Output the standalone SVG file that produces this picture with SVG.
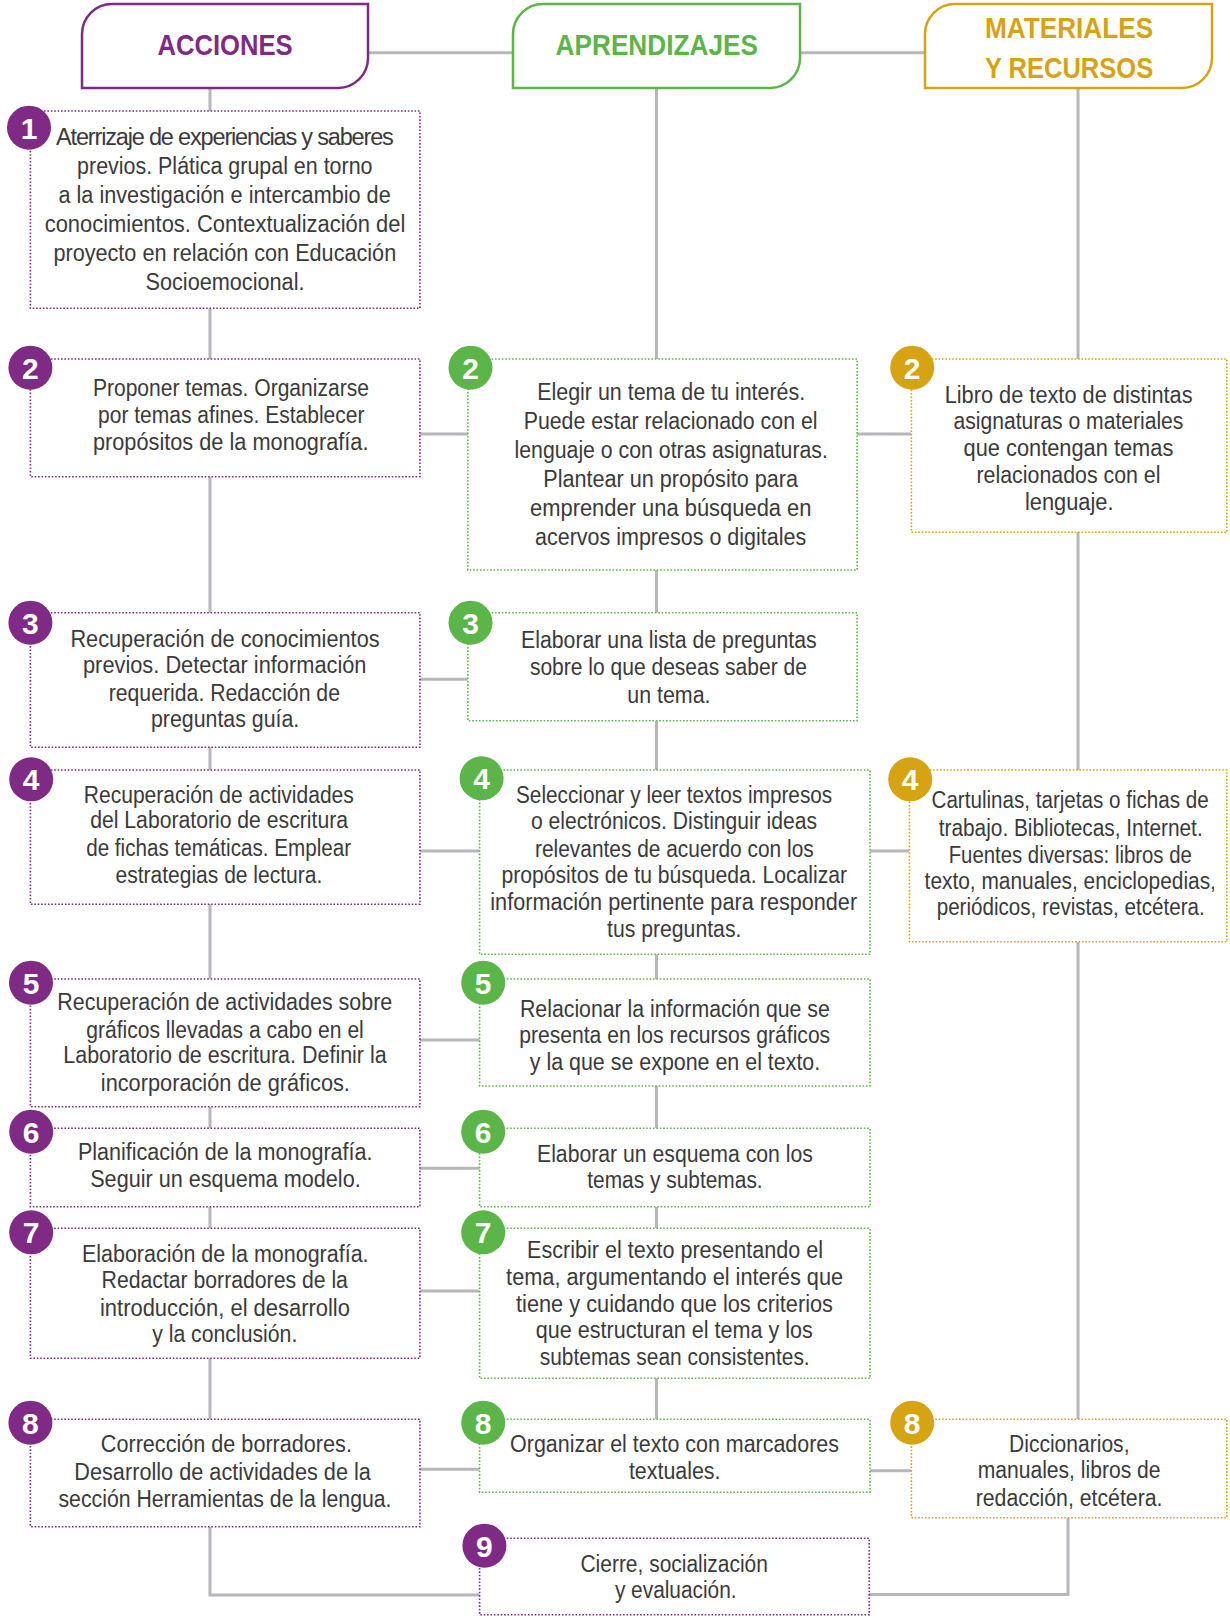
<svg xmlns="http://www.w3.org/2000/svg" width="1230" height="1616" viewBox="0 0 1230 1616">
<style>
.hd{fill:#fff;stroke-width:2.5}
.bx{fill:#fff;stroke-width:1.6;stroke-dasharray:1.6 1.8}
.p{stroke:#7f2a84}.g{stroke:#5bb548}.o{stroke:#d6a313}
.bp{fill:#7f2a84}.bg{fill:#5bb548}.bo{fill:#d6a313}
.t{font-family:"Liberation Sans Narrow","Liberation Sans",Arial,sans-serif;font-size:23.5px;fill:#3a3a3a}
.n{font-family:"Liberation Sans Narrow","Liberation Sans",Arial,sans-serif;font-size:30px;font-weight:bold;fill:#fff;text-anchor:middle}
.h{font-family:"Liberation Sans Narrow","Liberation Sans",Arial,sans-serif;font-size:30px;font-weight:bold}
.c{stroke:#b6b6bb;stroke-width:3;fill:none}
</style>
<g id="connectors" class="c">
<path d="M368,52.7H513M800,52.7H925"/>
<path d="M210,88V111M210,308V359M210,477V613M210,747V770M210,904V979M210,1107V1128M210,1207V1228M210,1358V1419M210,1527V1595H480"/>
<path d="M656.5,88V359M656.5,570V613M656.5,721V770M656.5,954V979M656.5,1086V1128M656.5,1207V1228M656.5,1378V1419"/>
<path d="M1078,88V359M1078,532V770M1078,942V1419M1068,1518V1594.5H869"/>
<path d="M420,434H468M857,434H911M420,679.3H468M420,851H480M870,851H909M420,1040H480M420,1168.3H480M420,1291H480M420,1469.3H480M870,1470.7H911"/>
</g>
<g id="h-acciones">
<path class="hd p" d="M82,88V34A30,30 0 0 1 112,4H368V58A30,30 0 0 1 338,88Z"/>
<text class="h" x="157.4" y="55" textLength="135.2" lengthAdjust="spacingAndGlyphs" fill="#7f2a84">ACCIONES</text>
</g>
<g id="h-aprendizajes">
<path class="hd g" d="M513,88V34A30,30 0 0 1 543,4H800V58A30,30 0 0 1 770,88Z"/>
<text class="h" x="555.6" y="55" textLength="202.3" lengthAdjust="spacingAndGlyphs" fill="#5bb548">APRENDIZAJES</text>
</g>
<g id="h-materiales">
<path class="hd o" d="M925,88V34A30,30 0 0 1 955,4H1212V58A30,30 0 0 1 1182,88Z"/>
<text class="h" x="984.9" y="37.5" textLength="168.3" lengthAdjust="spacingAndGlyphs" fill="#d6a313">MATERIALES</text>
<text class="h" x="984.9" y="77.5" textLength="168.3" lengthAdjust="spacingAndGlyphs" fill="#d6a313">Y RECURSOS</text>
</g>
<g id="a1">
<rect class="bx p" x="30.4" y="111" width="389.5" height="197.3"/>
<circle class="bp" cx="29" cy="127.7" r="22"/><text class="n" x="29" y="138.7">1</text>
<text class="t" lengthAdjust="spacingAndGlyphs"><tspan x="56.1" y="145" textLength="337.7">Aterrizaje de experiencias y saberes</tspan></text>
<text class="t" x="77.1" y="174" textLength="295.4" lengthAdjust="spacingAndGlyphs">previos. Plática grupal en torno</text>
<text class="t" x="58.5" y="202.7" textLength="332.2" lengthAdjust="spacingAndGlyphs">a la investigación e intercambio de</text>
<text class="t" x="44.7" y="231.7" textLength="360.6" lengthAdjust="spacingAndGlyphs">conocimientos. Contextualización del</text>
<text class="t" x="53.4" y="260.7" textLength="342.8" lengthAdjust="spacingAndGlyphs">proyecto en relación con Educación</text>
<text class="t" x="145.5" y="290" textLength="159" lengthAdjust="spacingAndGlyphs">Socioemocional.</text>
</g>
<g id="a2">
<rect class="bx p" x="30.4" y="359" width="389.5" height="117.7"/>
<circle class="bp" cx="30.4" cy="367.7" r="22"/><text class="n" x="30.4" y="378.7">2</text>
<text class="t" x="92.9" y="396" textLength="276" lengthAdjust="spacingAndGlyphs">Proponer temas. Organizarse</text>
<text class="t" x="98" y="423.3" textLength="266.5" lengthAdjust="spacingAndGlyphs">por temas afines. Establecer</text>
<text class="t" x="92.9" y="450" textLength="275.6" lengthAdjust="spacingAndGlyphs">propósitos de la monografía.</text>
</g>
<g id="a3">
<rect class="bx p" x="30.4" y="612.7" width="389.5" height="134.6"/>
<circle class="bp" cx="30.4" cy="622.7" r="22"/><text class="n" x="30.4" y="633.7">3</text>
<text class="t" x="70.4" y="646.7" textLength="309.2" lengthAdjust="spacingAndGlyphs">Recuperación de conocimientos</text>
<text class="t" x="83" y="673.3" textLength="283.5" lengthAdjust="spacingAndGlyphs">previos. Detectar información</text>
<text class="t" x="108.7" y="700.7" textLength="231.3" lengthAdjust="spacingAndGlyphs">requerida. Redacción de</text>
<text class="t" x="151" y="726.7" textLength="148.3" lengthAdjust="spacingAndGlyphs">preguntas guía.</text>
</g>
<g id="a4">
<rect class="bx p" x="30.4" y="770" width="389.5" height="134.3"/>
<circle class="bp" cx="31.2" cy="779.3" r="22"/><text class="n" x="31.2" y="790.3">4</text>
<text class="t" x="83.8" y="802.7" textLength="270" lengthAdjust="spacingAndGlyphs">Recuperación de actividades</text>
<text class="t" x="90.2" y="828.3" textLength="257.8" lengthAdjust="spacingAndGlyphs">del Laboratorio de escritura</text>
<text class="t" x="86.2" y="856" textLength="264.9" lengthAdjust="spacingAndGlyphs">de fichas temáticas. Emplear</text>
<text class="t" x="115.5" y="882.7" textLength="206.8" lengthAdjust="spacingAndGlyphs">estrategias de lectura.</text>
</g>
<g id="a5">
<rect class="bx p" x="30.4" y="979" width="389.5" height="127.7"/>
<circle class="bp" cx="31" cy="982.7" r="22"/><text class="n" x="31" y="993.7">5</text>
<text class="t" x="57.3" y="1010" textLength="334.9" lengthAdjust="spacingAndGlyphs">Recuperación de actividades sobre</text>
<text class="t" x="86.2" y="1037.7" textLength="277.6" lengthAdjust="spacingAndGlyphs">gráficos llevadas a cabo en el</text>
<text class="t" x="63.3" y="1063.3" textLength="323.4" lengthAdjust="spacingAndGlyphs">Laboratorio de escritura. Definir la</text>
<text class="t" x="100.8" y="1090.7" textLength="249.1" lengthAdjust="spacingAndGlyphs">incorporación de gráficos.</text>
</g>
<g id="a6">
<rect class="bx p" x="30.4" y="1128.3" width="389.5" height="78.4"/>
<circle class="bp" cx="31.2" cy="1131.7" r="22"/><text class="n" x="31.2" y="1142.7">6</text>
<text class="t" x="77.9" y="1160" textLength="294.6" lengthAdjust="spacingAndGlyphs">Planificación de la monografía.</text>
<text class="t" x="90.2" y="1186.7" textLength="270.5" lengthAdjust="spacingAndGlyphs">Seguir un esquema modelo.</text>
</g>
<g id="a7">
<rect class="bx p" x="30.4" y="1228.3" width="389.5" height="130"/>
<circle class="bp" cx="31.2" cy="1232.3" r="22"/><text class="n" x="31.2" y="1243.3">7</text>
<text class="t" x="81.9" y="1261.7" textLength="286.7" lengthAdjust="spacingAndGlyphs">Elaboración de la monografía.</text>
<text class="t" x="101.6" y="1288.3" textLength="246.3" lengthAdjust="spacingAndGlyphs">Redactar borradores de la</text>
<text class="t" x="100" y="1316" textLength="249.9" lengthAdjust="spacingAndGlyphs">introducción, el desarrollo</text>
<text class="t" x="152.2" y="1341.7" textLength="145.1" lengthAdjust="spacingAndGlyphs">y la conclusión.</text>
</g>
<g id="a8">
<rect class="bx p" x="30.4" y="1419.3" width="389.5" height="107.4"/>
<circle class="bp" cx="30.4" cy="1422.7" r="22"/><text class="n" x="30.4" y="1433.7">8</text>
<text class="t" x="100.8" y="1451.7" textLength="251.1" lengthAdjust="spacingAndGlyphs">Corrección de borradores.</text>
<text class="t" x="74.3" y="1480" textLength="296.6" lengthAdjust="spacingAndGlyphs">Desarrollo de actividades de la</text>
<text class="t" x="58.5" y="1506.7" textLength="333" lengthAdjust="spacingAndGlyphs">sección Herramientas de la lengua.</text>
</g>
<g id="l2">
<rect class="bx g" x="467.8" y="359" width="389.3" height="211"/>
<circle class="bg" cx="470.5" cy="367.7" r="22"/><text class="n" x="470.5" y="378.7">2</text>
<text class="t" x="537.2" y="400" textLength="268" lengthAdjust="spacingAndGlyphs">Elegir un tema de tu interés.</text>
<text class="t" x="523.7" y="429" textLength="293.8" lengthAdjust="spacingAndGlyphs">Puede estar relacionado con el</text>
<text class="t" x="514.5" y="457.5" textLength="313.4" lengthAdjust="spacingAndGlyphs">lenguaje o con otras asignaturas.</text>
<text class="t" x="543.3" y="486.5" textLength="254.7" lengthAdjust="spacingAndGlyphs">Plantear un propósito para</text>
<text class="t" x="530" y="515.5" textLength="281.5" lengthAdjust="spacingAndGlyphs">emprender una búsqueda en</text>
<text class="t" x="535" y="544.5" textLength="271.2" lengthAdjust="spacingAndGlyphs">acervos impresos o digitales</text>
</g>
<g id="l3">
<rect class="bx g" x="467.8" y="612.7" width="389.3" height="108"/>
<circle class="bg" cx="470.5" cy="622.7" r="22"/><text class="n" x="470.5" y="633.7">3</text>
<text class="t" x="521" y="648.3" textLength="295.7" lengthAdjust="spacingAndGlyphs">Elaborar una lista de preguntas</text>
<text class="t" x="529.9" y="675" textLength="277" lengthAdjust="spacingAndGlyphs">sobre lo que deseas saber de</text>
<text class="t" x="627.3" y="702.7" textLength="83.2" lengthAdjust="spacingAndGlyphs">un tema.</text>
</g>
<g id="l4">
<rect class="bx g" x="479.6" y="770" width="390.4" height="184.3"/>
<circle class="bg" cx="481.6" cy="778.3" r="22"/><text class="n" x="481.6" y="789.3">4</text>
<text class="t" x="516" y="803.3" textLength="316.2" lengthAdjust="spacingAndGlyphs">Seleccionar y leer textos impresos</text>
<text class="t" x="531" y="829.3" textLength="286" lengthAdjust="spacingAndGlyphs">o electrónicos. Distinguir ideas</text>
<text class="t" x="535" y="856.7" textLength="278.7" lengthAdjust="spacingAndGlyphs">relevantes de acuerdo con los</text>
<text class="t" x="501.4" y="883.3" textLength="345.7" lengthAdjust="spacingAndGlyphs">propósitos de tu búsqueda. Localizar</text>
<text class="t" x="490.3" y="910" textLength="366.8" lengthAdjust="spacingAndGlyphs">información pertinente para responder</text>
<text class="t" x="607" y="936.7" textLength="134.4" lengthAdjust="spacingAndGlyphs">tus preguntas.</text>
</g>
<g id="l5">
<rect class="bx g" x="479.6" y="979" width="390.4" height="107"/>
<circle class="bg" cx="483.2" cy="982.7" r="22"/><text class="n" x="483.2" y="993.7">5</text>
<text class="t" x="520" y="1016.7" textLength="309.8" lengthAdjust="spacingAndGlyphs">Relacionar la información que se</text>
<text class="t" x="519.2" y="1043.3" textLength="311" lengthAdjust="spacingAndGlyphs">presenta en los recursos gráficos</text>
<text class="t" x="529.8" y="1070" textLength="290.4" lengthAdjust="spacingAndGlyphs">y la que se expone en el texto.</text>
</g>
<g id="l6">
<rect class="bx g" x="479.6" y="1128.3" width="390.4" height="78.4"/>
<circle class="bg" cx="483.2" cy="1131.7" r="22"/><text class="n" x="483.2" y="1142.7">6</text>
<text class="t" x="537" y="1161.7" textLength="275.9" lengthAdjust="spacingAndGlyphs">Elaborar un esquema con los</text>
<text class="t" x="587.2" y="1188.3" textLength="175.5" lengthAdjust="spacingAndGlyphs">temas y subtemas.</text>
</g>
<g id="l7">
<rect class="bx g" x="479.6" y="1228.3" width="390.4" height="150"/>
<circle class="bg" cx="483.2" cy="1232.3" r="22"/><text class="n" x="483.2" y="1243.3">7</text>
<text class="t" x="527.1" y="1258.3" textLength="295.9" lengthAdjust="spacingAndGlyphs">Escribir el texto presentando el</text>
<text class="t" x="506.1" y="1285" textLength="337" lengthAdjust="spacingAndGlyphs">tema, argumentando el interés que</text>
<text class="t" x="516" y="1311.7" textLength="317" lengthAdjust="spacingAndGlyphs">tiene y cuidando que los criterios</text>
<text class="t" x="535.8" y="1338.3" textLength="277.1" lengthAdjust="spacingAndGlyphs">que estructuran el tema y los</text>
<text class="t" x="539.7" y="1365" textLength="270" lengthAdjust="spacingAndGlyphs">subtemas sean consistentes.</text>
</g>
<g id="l8">
<rect class="bx g" x="479.6" y="1419.3" width="390.4" height="73"/>
<circle class="bg" cx="483.2" cy="1422.7" r="22"/><text class="n" x="483.2" y="1433.7">8</text>
<text class="t" x="510.1" y="1451.7" textLength="328.9" lengthAdjust="spacingAndGlyphs">Organizar el texto con marcadores</text>
<text class="t" x="628.9" y="1479.3" textLength="91.6" lengthAdjust="spacingAndGlyphs">textuales.</text>
</g>
<g id="a9">
<rect class="bx p" x="479.6" y="1538.3" width="389.6" height="76.5"/>
<circle class="bp" cx="484.4" cy="1545.7" r="22"/><text class="n" x="484.4" y="1556.7">9</text>
<text class="t" x="580.5" y="1571.7" textLength="187.4" lengthAdjust="spacingAndGlyphs">Cierre, socialización</text>
<text class="t" x="614.9" y="1598.3" textLength="121.7" lengthAdjust="spacingAndGlyphs">y evaluación.</text>
</g>
<g id="m2">
<rect class="bx o" x="911.4" y="359" width="315.4" height="173.3"/>
<circle class="bo" cx="912.2" cy="367.7" r="22"/><text class="n" x="912.2" y="378.7">2</text>
<text class="t" x="944.7" y="402.5" textLength="247.9" lengthAdjust="spacingAndGlyphs">Libro de texto de distintas</text>
<text class="t" x="953.6" y="429.3" textLength="229.8" lengthAdjust="spacingAndGlyphs">asignaturas o materiales</text>
<text class="t" x="963.6" y="456" textLength="209.7" lengthAdjust="spacingAndGlyphs">que contengan temas</text>
<text class="t" x="976.5" y="482.8" textLength="184" lengthAdjust="spacingAndGlyphs">relacionados con el</text>
<text class="t" x="1025" y="509.5" textLength="88.5" lengthAdjust="spacingAndGlyphs">lenguaje.</text>
</g>
<g id="m4">
<rect class="bx o" x="909.4" y="770" width="317.4" height="171.7"/>
<circle class="bo" cx="910.2" cy="779.3" r="22"/><text class="n" x="910.2" y="790.3">4</text>
<text class="t" x="931.5" y="808.3" textLength="277.2" lengthAdjust="spacingAndGlyphs">Cartulinas, tarjetas o fichas de</text>
<text class="t" x="938.7" y="836" textLength="264" lengthAdjust="spacingAndGlyphs">trabajo. Bibliotecas, Internet.</text>
<text class="t" x="948.7" y="862.7" textLength="243.1" lengthAdjust="spacingAndGlyphs">Fuentes diversas: libros de</text>
<text class="t" x="924.6" y="889.3" textLength="291.3" lengthAdjust="spacingAndGlyphs">texto, manuales, enciclopedias,</text>
<text class="t" x="936.7" y="915" textLength="268" lengthAdjust="spacingAndGlyphs">periódicos, revistas, etcétera.</text>
</g>
<g id="m8">
<rect class="bx o" x="911.4" y="1419.3" width="315.4" height="98.4"/>
<circle class="bo" cx="912.2" cy="1422.7" r="22"/><text class="n" x="912.2" y="1433.7">8</text>
<text class="t" x="1009" y="1451.7" textLength="120.5" lengthAdjust="spacingAndGlyphs">Diccionarios,</text>
<text class="t" x="977.7" y="1478.3" textLength="182.8" lengthAdjust="spacingAndGlyphs">manuales, libros de</text>
<text class="t" x="975.7" y="1506" textLength="186.8" lengthAdjust="spacingAndGlyphs">redacción, etcétera.</text>
</g>
</svg>
